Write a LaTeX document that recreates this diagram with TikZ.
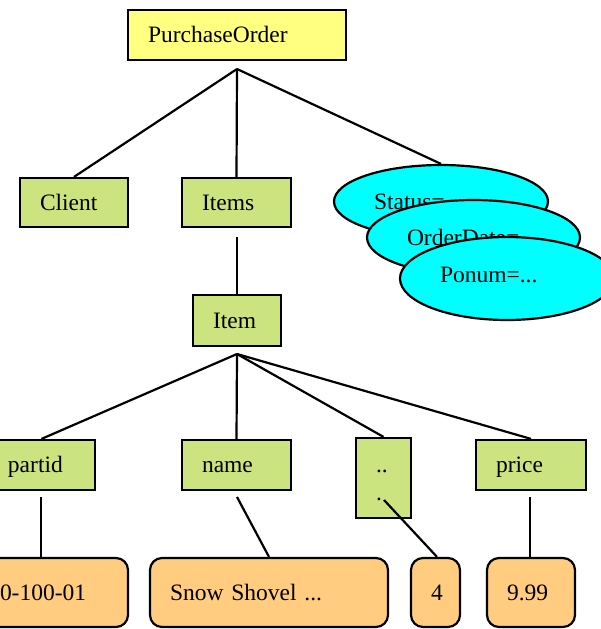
\documentclass[tikz,border=0pt]{standalone}
\usepackage{fontspec}
\setmainfont{Liberation Serif}
\usetikzlibrary{shapes.geometric}
\definecolor{poyellow}{RGB}{255,255,128}
\definecolor{elgreen}{RGB}{204,228,128}
\definecolor{valorange}{RGB}{255,204,128}
\definecolor{attcyan}{RGB}{0,255,255}
\tikzset{
  txt/.style={font=\fontsize{23.5}{28}\selectfont},
  boxbase/.style={txt, draw=black, line width=2.2pt, align=left, inner xsep=20pt, inner ysep=0pt, anchor=center, text height=19pt, text depth=4pt},
  ybox/.style n args={2}{boxbase, fill=poyellow, text width=#1-40pt, minimum height=#2},
  gbox/.style n args={2}{boxbase, fill=elgreen, text width=#1-40pt, minimum height=#2},
  vbox/.style n args={2}{boxbase, fill=valorange, rounded corners=12pt, text width=#1-40pt, minimum height=#2},
  attr/.style n args={2}{txt, ellipse, draw=black, line width=2.2pt, fill=attcyan, align=left, inner sep=0pt, text width=#1-80pt, minimum width=#1, minimum height=#2},
  conn/.style={line width=2.2pt, draw=black}
}
\begin{document}
\begin{tikzpicture}[x=1pt,y=-1pt]
\useasboundingbox (0,0) rectangle (601,629);
\clip (0,0) rectangle (601,629);
% root
\node[ybox={218pt}{50pt}] (po) at (237,35) {PurchaseOrder};
\coordinate (apex1) at (237,69);
% level 1
\node[gbox={108pt}{49pt}] (client) at (74,202.5) {Client};
\node[gbox={109pt}{49pt}] (items) at (236.5,202.5) {Items};
\draw[conn] (apex1) -- (client.north);
\draw[conn] (apex1) -- (items.north);
% attributes
\node[attr={214pt}{73pt}] (status) at (441,201.5) {Status=...};
\draw[conn] (apex1) -- (status.north);
\node[attr={213pt}{75pt}] (odate) at (473.5,237.5) {OrderDate=...};
\node[attr={214pt}{83pt}, text height=16pt, text depth=9pt] (ponum) at (507,278.5) {Ponum=...};
% item
\node[gbox={88pt}{51pt}] (item) at (237,320.5) {Item};
\coordinate (itemsb) at (237,237);
\draw[conn] (itemsb) -- (item.north);
\coordinate (apex2) at (237,354);
% level 3
\node[gbox={107pt}{50pt}] (partid) at (41.5,465) {partid};
\node[gbox={109pt}{50pt}] (name) at (236.5,465) {name};
\node[gbox={55pt}{80pt}, text height=16pt, text depth=28pt] (dots) at (383.5,478) {..\\.};
\node[gbox={110pt}{50pt}] (price) at (531,465) {price};
\draw[conn] (apex2) -- (partid.north);
\draw[conn] (apex2) -- (name.north);
\draw[conn] (apex2) -- (dots.north);
\draw[conn] (apex2) -- (price.north);
% values
\node[vbox={148pt}{69pt}] (v1) at (54,592.5) {0-100-01};
\node[vbox={238pt}{69pt}] (v2) at (269,592.5) {Snow Shovel ...};
\node[vbox={49pt}{69pt}] (v3) at (435.5,592.5) {4};
\node[vbox={88pt}{69pt}] (v4) at (531,592.5) {9.99};
\coordinate (pb) at (41,497);
\coordinate (nb) at (237,497);
\coordinate (db) at (384,500);
\coordinate (prb) at (530,497);
\draw[conn] (pb) -- (pb |- v1.north);
\draw[conn] (nb) -- (v2.north);
\draw[conn] (db) -- ([xshift=1.5pt]v3.north);
\draw[conn] (prb) -- (prb |- v4.north);
\end{tikzpicture}
\end{document}
